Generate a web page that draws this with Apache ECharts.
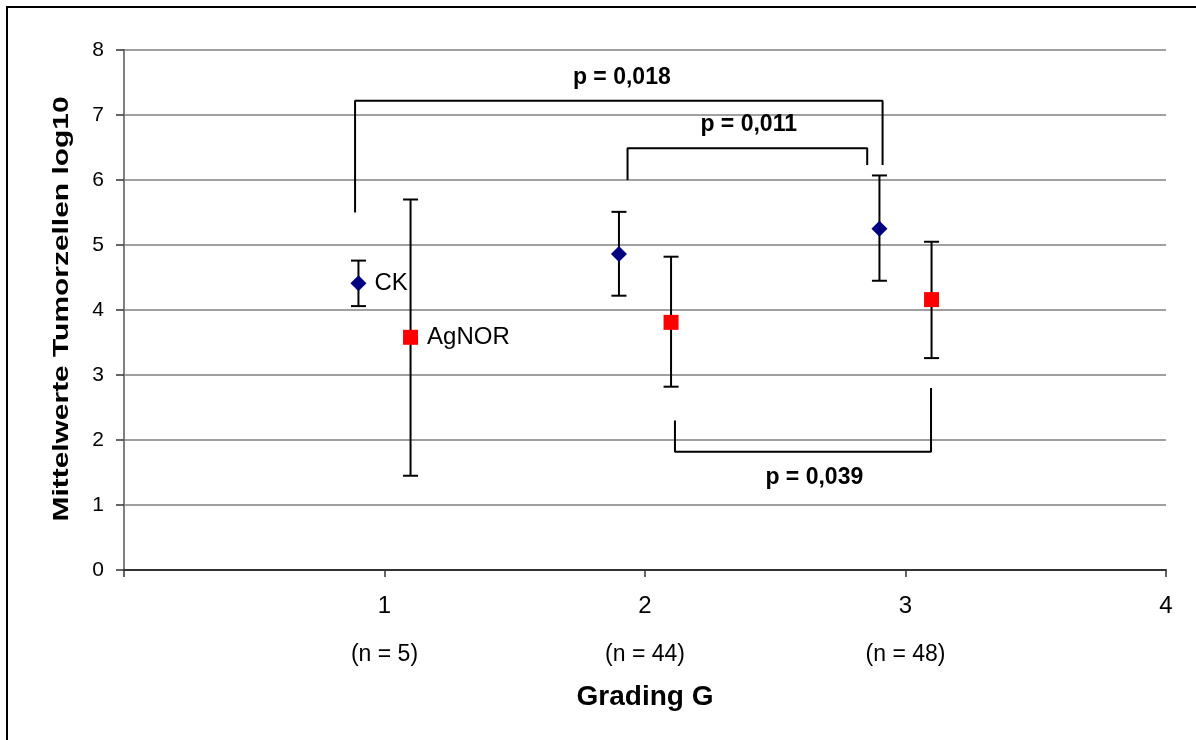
<!DOCTYPE html>
<html>
<head>
<meta charset="utf-8">
<script src="https://cdn.jsdelivr.net/npm/echarts@6/dist/echarts.min.js"></script>
<style>
html,body{margin:0;padding:0;background:#fff;}
#chart{width:1196px;height:740px;}
</style>
</head>
<body>
<div id="chart"></div>
<script>
// ---- data ----
const xTickLabels = ['', '1', '2', '3', '4'];
const nLabels = ['', '(n = 5)', '(n = 44)', '(n = 48)', ''];
const yTickLabels = ['0','1','2','3','4','5','6','7','8'];

const ckX = [0.9, 1.9, 2.9];
const ckMean = [4.41, 4.86, 5.25];
const ckLow = [4.06, 4.22, 4.45];
const ckHigh = [4.76, 5.51, 6.07];

const agX = [1.1, 2.1, 3.1];
const agMean = [3.58, 3.81, 4.16];
const agLow = [1.45, 2.82, 3.26];
const agHigh = [5.70, 4.82, 5.05];

const bracket018 = [[0.887, 5.50], [0.887, 7.22], [2.912, 7.22], [2.912, 6.23]];
const bracket011 = [[1.933, 6.00], [1.933, 6.49], [2.853, 6.49], [2.853, 6.23]];
const bracket039 = [[2.115, 2.30], [2.115, 1.82], [3.098, 1.82], [3.098, 2.80]];

const pTexts = ['p = 0,018', 'p = 0,011', 'p = 0,039'];
const pAnchors = [[1.911, 7.57], [2.398, 6.85], [2.650, 1.42]];

const seriesNames = ['CK', 'AgNOR'];
const xTitle = 'Grading G';
const yTitle = 'Mittelwerte Tumorzellen log10';

// ---- chart ----
const FONT = '"Liberation Sans", Arial, sans-serif';
const chart = echarts.init(document.getElementById('chart'), null, {renderer: 'canvas'});

function errorRender(params, api) {
  const x = api.value(0), lo = api.value(1), hi = api.value(2);
  const pLo = api.coord([x, lo]);
  const pHi = api.coord([x, hi]);
  const w = 7.5;
  const style = {stroke: '#000', lineWidth: 2};
  return {
    type: 'group',
    children: [
      {type: 'line', shape: {x1: pLo[0], y1: pLo[1], x2: pHi[0], y2: pHi[1]}, style},
      {type: 'line', shape: {x1: pLo[0] - w, y1: pLo[1], x2: pLo[0] + w, y2: pLo[1]}, style},
      {type: 'line', shape: {x1: pHi[0] - w, y1: pHi[1], x2: pHi[0] + w, y2: pHi[1]}, style}
    ]
  };
}

const bracketSeries = [bracket018, bracket011, bracket039].map(b => ({
  type: 'line',
  data: b,
  showSymbol: false,
  symbol: 'none',
  lineStyle: {color: '#000', width: 2},
  z: 3,
  silent: true
}));

const option = {
  animation: false,
  backgroundColor: '#fff',
  grid: {left: 124, right: 30, top: 50, bottom: 170, containLabel: false},
  xAxis: [
    {
      type: 'value', min: 0, max: 4, interval: 1, position: 'bottom',
      axisLine: {show: true, lineStyle: {color: '#333', width: 2}},
      axisTick: {show: true, length: 7, lineStyle: {color: '#333', width: 1.5}},
      axisLabel: {
        margin: 24, fontSize: 24, color: '#000', fontFamily: FONT,
        showMinLabel: true, showMaxLabel: true,
        formatter: v => xTickLabels[Math.round(v)] || ''
      },
      splitLine: {show: false},
      name: xTitle, nameLocation: 'middle', nameGap: 113,
      nameTextStyle: {fontSize: 28, fontWeight: 'bold', color: '#000', fontFamily: FONT}
    },
    {
      type: 'value', min: 0, max: 4, interval: 1, position: 'bottom', offset: 51,
      axisLine: {show: false}, axisTick: {show: false},
      axisLabel: {
        margin: 22, fontSize: 23, color: '#000', fontFamily: FONT,
        showMinLabel: true, showMaxLabel: true,
        formatter: v => nLabels[Math.round(v)] || ''
      },
      splitLine: {show: false}
    }
  ],
  yAxis: [
    {
      type: 'value', min: 0, max: 8, interval: 1,
      axisLine: {show: true, lineStyle: {color: '#333', width: 2}},
      axisTick: {show: true, length: 8, lineStyle: {color: '#333', width: 1.5}},
      axisLabel: {margin: 20, fontSize: 21, color: '#000', fontFamily: FONT,
        formatter: v => yTickLabels[Math.round(v)]},
      splitLine: {show: true, lineStyle: {color: '#808080', width: 1.5}}
    },
    {
      type: 'value', min: 0, max: 8, interval: 1, position: 'right',
      axisLine: {show: true, lineStyle: {color: '#808080', width: 2}},
      axisTick: {show: false}, axisLabel: {show: false}, splitLine: {show: false}
    }
  ],
  graphic: [
    {type: 'rect', shape: {x: 7, y: 7, width: 1400, height: 1000},
      style: {fill: 'none', stroke: '#000', lineWidth: 2}, z: 100, silent: true},
    {type: 'text', x: 62, y: 309, rotation: Math.PI / 2, scaleX: 1.36, scaleY: 1,
      style: {text: yTitle, fontSize: 22, fontWeight: 'bold', fill: '#000', fontFamily: FONT,
        align: 'center', verticalAlign: 'middle'}, z: 100}
  ],
  series: [
    {
      type: 'custom', name: 'CK err', renderItem: errorRender,
      data: ckX.map((x, i) => [x, ckLow[i], ckHigh[i]]), z: 4, silent: true
    },
    {
      type: 'custom', name: 'AgNOR err', renderItem: errorRender,
      data: agX.map((x, i) => [x, agLow[i], agHigh[i]]), z: 4, silent: true
    },
    {
      type: 'scatter', name: seriesNames[0], symbol: 'diamond', symbolSize: 16,
      itemStyle: {color: '#000080', opacity: 1}, z: 6,
      data: ckX.map((x, i) => ({
        value: [x, ckMean[i]],
        label: i === 0 ? {show: true, position: 'right', distance: 8, formatter: seriesNames[0],
          fontSize: 24, color: '#000', fontFamily: FONT} : {show: false}
      }))
    },
    {
      type: 'scatter', name: seriesNames[1], symbol: 'rect', symbolSize: 15,
      itemStyle: {color: '#ff0000', opacity: 1}, z: 6,
      data: agX.map((x, i) => ({
        value: [x, agMean[i]],
        label: i === 0 ? {show: true, position: 'right', distance: 9, formatter: seriesNames[1],
          fontSize: 24, color: '#000', fontFamily: FONT} : {show: false}
      }))
    },
    ...bracketSeries,
    {
      type: 'scatter', symbolSize: 0, silent: true, z: 7,
      itemStyle: {opacity: 1},
      data: pAnchors.map((p, i) => ({
        value: p,
        label: {show: true, position: 'inside', formatter: pTexts[i], fontSize: 23,
          fontWeight: 'bold', color: '#000', fontFamily: FONT}
      }))
    }
  ]
};
chart.setOption(option);
</script>
</body>
</html>
